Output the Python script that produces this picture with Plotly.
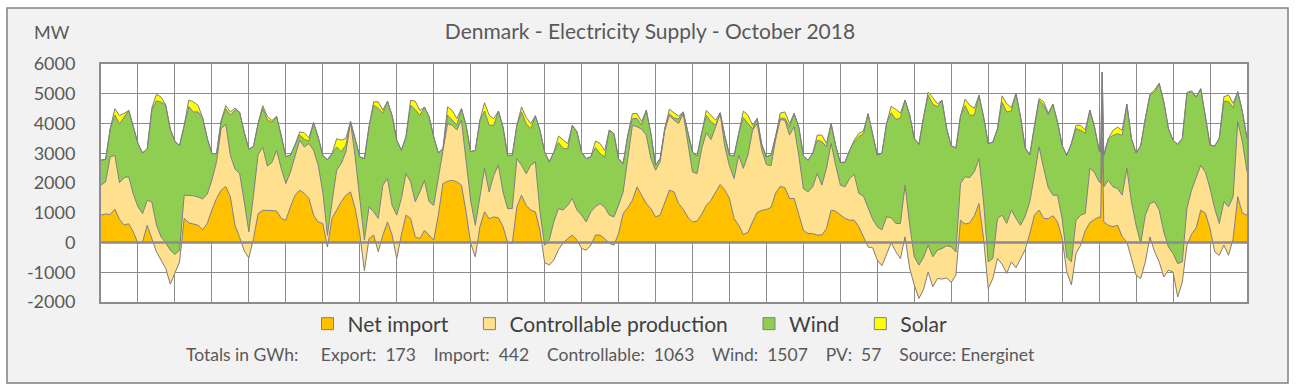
import plotly.graph_objects as go

# ---------------- data (MW, 3-hourly samples; one row per day) ----------------
net_import = [
    920, 960, 940, 1120, 780, 590, 630, 350,
    -30, 20, 580, 130, -310, -590, -870, -1400,
    -990, -650, 810, 660, 620, 580, 430, 640,
    1090, 1480, 1760, 1880, 1530, 580, 170, -280,
    -520, 130, 970, 1080, 1080, 1060, 1060, 810,
    750, 1200, 1590, 1760, 1650, 1480, 920, 690,
    640, -150, 810, 1090, 1370, 1590, 1700, 1140,
    300, -950, 130, 250, -310, 250, 690, 250,
    -540, 250, 920, 810, 190, 130, 410, 250,
    80, 920, 1980, 2060, 2090, 2040, 1930, 1030,
    -30, -480, 530, 1030, 800, 860, 830, 530,
    0, -30, 1200, 1590, 1250, 1090, 1030, 410,
    -670, -760, -590, -240, -10, 130, 250, 80,
    -200, -260, -90, 250, 250, 130, -30, -90,
    300, 970, 1170, 1420, 1870, 1590, 1310, 1140,
    860, 920, 1330, 1760, 1700, 1310, 1120, 850,
    690, 720, 950, 1250, 1420, 1700, 1950, 1760,
    1480, 810, 580, 270, 340, 690, 1010, 1080,
    1110, 1180, 1660, 1890, 1840, 1480, 1480, 940,
    410, 300, 300, 250, 250, 470, 1090, 1050,
    920, 810, 750, 750, 530, 190, -150, -180,
    -590, -780, -370, -10, -310, -540, 190, -870,
    -1430, -1880, -1580, -990, -1490, -1210, -1230, -1190,
    -1340, -1100, 750, 620, 660, 900, 1310, 130,
    -1550, -1210, -540, -730, -1040, -650, -850, -540,
    -240, 300, 920, 1090, 810, 800, 900, 690,
    130, -990, -1430, -370, -90, 400, 670, 780,
    860, 690, 580, 530, 580, 190, 20, -540,
    -1100, -1210, -650, 190, -310, -650, -1160, -930,
    -990, -1830, -1330, -90, 280, 490, 1090, 980,
    470, -310, -430, -90, -430, 130, 1540, 980,
    920,
]
controllable = [
    1010, 1080, 1940, 1810, 1230, 1590, 1580, 1270,
    1230, 950, 840, 1230, 900, 780, 860, 1140,
    590, 390, 780, 930, 950, 950, 1030, 990,
    1010, 1230, 2070, 2090, 1400, 1890, 2150, 1650,
    880, 1460, 1990, 2120, 1490, 1630, 2040, 1680,
    1230, 1170, 1340, 1680, 1560, 1850, 2180, 1910,
    1060, 390, 560, 1340, 1290, 1460, 2350, 1740,
    1180, 1030, 1070, 780, 1120, 1680, 1460, 1000,
    1460, 1230, 1400, 1230, 1180, 1570, 1680, 1120,
    1170, 1230, 1010, 1940, 1850, 1740, 2180, 1790,
    1430, 1060, 950, 1460, 900, 1400, 1770, 1170,
    1140, 1170, 1620, 1010, 1060, 1510, 1680, 620,
    580, 840, 1290, 1380, 1100, 1120, 1230, 1010,
    1120, 950, 1120, 950, 1060, 1060, 950, 950,
    950, 730, 1660, 2520, 2020, 2220, 2300, 1680,
    1570, 1790, 2440, 2520, 2410, 2690, 3210, 2480,
    1680, 1600, 2210, 2440, 2040, 2190, 2380, 1460,
    1100, 1340, 2350, 2220, 2600, 3080, 2990, 2020,
    1510, 1400, 1810, 2240, 2270, 2130, 2410, 1990,
    1400, 1400, 1570, 2070, 1680, 2020, 2240, 1550,
    1010, 1060, 1400, 1540, 1120, 1370, 1290, 960,
    1120, 1200, 1230, 840, 950, 1180, 1740, 1460,
    950, 1120, 1080, 900, 1010, 950, 1030, 1080,
    1200, 780, 1230, 1590, 1520, 1480, 1510, 1230,
    900, 670, 1340, 1650, 1680, 1740, 1660, 1120,
    1130, 1070, 1340, 2130, 1680, 1040, 690, 900,
    670, 500, 780, 1120, 1010, 580, 1830, 1570,
    1180, 1180, 1510, 1340, 1230, 1400, 2470, 1900,
    1680, 1180, 1570, 1120, 1680, 1740, 1510, 780,
    620, 1120, 680, 1230, 1480, 1720, 1510, 1380,
    1350, 1460, 1070, 1460, 1630, 1410, 2520, 2410,
    1460,
]
wind = [
    840, 750, 950, 1350, 1980, 2050, 2230, 2270,
    2130, 2040, 1730, 3100, 4170, 4530, 4630, 4070,
    3800, 3520, 2350, 2980, 2820, 2860, 2730, 1870,
    890, 280, 260, 520, 1350, 1990, 2060, 2330,
    2780, 1640, 1040, 1310, 1560, 1350, 1140, 1120,
    910, 570, 360, 170, 260, 80, 930, 940,
    1230, 2540, 1620, 780, 390, 230, 20, 620,
    1400, 2740, 2690, 3590, 3700, 2410, 2600, 3020,
    2520, 1620, 1230, 2570, 3100, 2570, 2460, 2860,
    2300, 860, 170, 280, 160, 170, 390, 1120,
    1650, 2520, 2630, 1930, 2240, 1680, 1820, 2180,
    1790, 1790, 1120, 1790, 1680, 1230, 1550, 2740,
    3140, 2630, 2330, 2220, 2070, 1900, 2460, 2630,
    2110, 2130, 1850, 1990, 1680, 1680, 2860, 2800,
    1570, 950, 780, 220, 280, 140, 840, 840,
    170, 110, 60, 40, 70, 150, 60, 370,
    670, 590, 540, 580, 600, 50, 30, 360,
    360, 760, 730, 1710, 1060, 50, 170, 190,
    260, 360, 110, 50, 60, 280, 450, 950,
    1120, 1060, 1120, 1120, 1460, 730, 670, 650,
    760, 830, 950, 1090, 1910, 2100, 3190, 2880,
    2410, 2580, 3140, 3530, 3500, 3540, 2860, 3700,
    3980, 4060, 4730, 5040, 5130, 4820, 4980, 3940,
    3390, 3500, 2270, 2390, 2090, 1910, 2130, 2860,
    3970, 3920, 3020, 3790, 3750, 3330, 4200, 3640,
    2290, 1580, 1680, 1560, 2130, 2450, 3060, 2460,
    2460, 3420, 3980, 3080, 2850, 2690, 1950, 1530,
    1060, 1060, 1400, 1730, 1850, 2010, 2160, 2130,
    2430, 3280, 3250, 3640, 3700, 4260, 4380, 3980,
    3810, 4010, 4150, 3870, 3300, 2670, 2570, 1930,
    1460, 2090, 2860, 3380, 3540, 2990, 1010, 1010,
    1120,
]
solar = [
    0, 0, 0, 220, 280, 110, 0, 0,
    0, 0, 0, 60, 220, 170, 0, 0,
    0, 0, 0, 220, 340, 220, 0, 0,
    0, 0, 0, 110, 110, 60, 0, 0,
    0, 0, 0, 90, 110, 60, 0, 0,
    0, 0, 0, 110, 220, 110, 0, 0,
    0, 0, 0, 280, 390, 220, 0, 0,
    0, 0, 0, 110, 220, 110, 0, 0,
    0, 0, 0, 170, 280, 170, 0, 0,
    0, 0, 0, 280, 340, 220, 0, 0,
    0, 0, 0, 280, 340, 220, 0, 0,
    0, 0, 0, 170, 220, 170, 0, 0,
    0, 0, 0, 220, 280, 170, 0, 0,
    0, 0, 0, 220, 340, 220, 0, 0,
    0, 0, 0, 170, 170, 110, 0, 0,
    0, 0, 0, 160, 180, 100, 0, 0,
    0, 0, 0, 170, 220, 170, 0, 0,
    0, 0, 0, 220, 280, 120, 0, 0,
    0, 0, 0, 170, 220, 110, 0, 0,
    0, 0, 0, 170, 220, 110, 0, 0,
    0, 0, 0, 60, 110, 90, 0, 0,
    0, 0, 0, 220, 340, 170, 0, 0,
    0, 0, 0, 110, 220, 110, 0, 0,
    0, 0, 0, 220, 340, 220, 0, 0,
    0, 0, 0, 220, 280, 110, 0, 0,
    0, 0, 0, 60, 110, 60, 0, 0,
    0, 0, 0, 110, 170, 110, 0, 0,
    0, 0, 0, 170, 220, 170, 0, 0,
    0, 0, 0, 40, 60, 0, 0, 0,
    0, 0, 0, 30, 40, 20, 0, 0,
    0, 0, 0, 150, 220, 150, 0, 0,
    0,
]
# short spike on 28 October (hour index in the month)
spike_hours = [649, 650]
spike_net_import = [820, 3550]
spike_controllable = [1180, 1180]
spike_wind = [1030, 1000]
spike_solar = [0, 0]

hours = list(range(0, 24 * 31 + 1, 3))

series_names = ["Net import", "Controllable production", "Wind", "Solar"]
y_ticks = [-2000, -1000, 0, 1000, 2000, 3000, 4000, 5000, 6000]
y_tick_labels = ["-2000", "-1000", "0", "1000", "2000", "3000", "4000", "5000", "6000"]

totals_export = 173
totals_import = 442
totals_controllable = 1063
totals_wind = 1507
totals_pv = 57
source = "Energinet"

# ---------------- build ----------------
rows = sorted(zip(hours + spike_hours,
                  net_import + spike_net_import,
                  controllable + spike_controllable,
                  wind + spike_wind,
                  solar + spike_solar))
x, ni, cp, wd, sl = map(list, zip(*rows))

fills = ["#FFC000", "#FFE08F", "#8FCE50", "#FFFF00"]
outline = "#7F7F7F"
grid = "#8C8C8C"
FONT = "Lato"

fig = go.Figure()
for name, vals, col in zip(series_names, [ni, cp, wd, sl], fills):
    fig.add_trace(go.Scatter(
        x=x, y=vals, name=name, stackgroup="one", mode="lines",
        line=dict(color=outline, width=1), fillcolor=col,
        showlegend=False, hoverinfo="skip"))
legend_pad = ["\u00a0" * 3, "\u00a0" * 3, "\u00a0" * 3, ""]
for name, col, pad in zip(series_names, fills, legend_pad):
    fig.add_trace(go.Scatter(
        x=[None], y=[None], name=name + pad, mode="markers",
        marker=dict(symbol="square", size=12, color=col,
                    line=dict(color=outline, width=1))))

L, R, T, B = 101, 49, 64, 88
W, H = 1296, 390
pw, ph = W - L - R, H - T - B


def px(xp):
    return (xp - L) / pw


def py(yp):
    return (H - B - yp) / ph


s2, s3, s5 = "\u00a0" * 2, "\u00a0" * 4, "\u00a0" * 5
footer = ("Totals in GWh:" + s5 + "Export:" + s2 + "{}" + s3 + "Import:" + s2 + "{}" + s3 +
          "Controllable:" + s2 + "{}" + s3 + "Wind:" + s2 + "{}" + s3 + "PV:" + s2 + "{}" + s3 +
          "Source: {}").format(totals_export, totals_import, totals_controllable,
                               totals_wind, totals_pv, source)

fig.update_layout(
    width=W, height=H,
    margin=dict(l=L, r=R, t=T, b=B, pad=0),
    paper_bgcolor="white", plot_bgcolor="white",
    font=dict(family=FONT, color="#595959"),
    title=dict(text="Denmark - Electricity Supply - October 2018",
               x=650 / W, xanchor="center", y=1 - 32 / H, yanchor="middle",
               font=dict(size=21, color="#595959", family=FONT)),
    showlegend=True,
    legend=dict(orientation="h", x=px(630), xanchor="center", y=py(324), yanchor="middle",
                font=dict(size=21, color="#404040", family=FONT),
                bgcolor="rgba(0,0,0,0)", itemwidth=30, traceorder="normal"),
    xaxis=dict(range=[0, 744], tick0=0, dtick=24, showgrid=True, gridcolor=grid, gridwidth=1.3,
               showticklabels=False, zeroline=False, showline=True, mirror=True,
               linecolor=grid, linewidth=2, ticks=""),
    yaxis=dict(range=[-2000, 6000], tickvals=y_ticks, ticktext=y_tick_labels,
               showgrid=True, gridcolor=grid, gridwidth=1.3,
               zeroline=False, showline=True, mirror=True, linecolor=grid, linewidth=2,
               ticks="outside", ticklen=20, tickcolor="rgba(0,0,0,0)",
               tickfont=dict(size=18, color="#595959", family=FONT)),
    shapes=[
        dict(type="rect", xref="paper", yref="paper", x0=px(7), x1=px(1288), y0=py(383), y1=py(8),
             fillcolor="#F2F2F2", line=dict(color="#808080", width=1.5), layer="below"),
        dict(type="rect", xref="paper", yref="paper", x0=0, x1=1, y0=0, y1=1,
             fillcolor="white", line=dict(width=0), layer="below"),
        dict(type="line", xref="paper", yref="y", x0=0, x1=1, y0=0, y1=0,
             line=dict(color=grid, width=2.5), layer="above"),
    ],
    annotations=[
        dict(text="MW", xref="paper", yref="paper", x=px(52), y=py(32), xanchor="center", yanchor="middle",
             showarrow=False, font=dict(size=18, color="#595959", family=FONT)),
        dict(text=footer, xref="paper", yref="paper", x=px(610), y=py(354), xanchor="center", yanchor="middle",
             showarrow=False, font=dict(size=17.5, color="#595959", family=FONT)),
    ],
)

fig.write_html("out.html", config={"displayModeBar": False},
               post_script="document.body.style.margin='0';")
